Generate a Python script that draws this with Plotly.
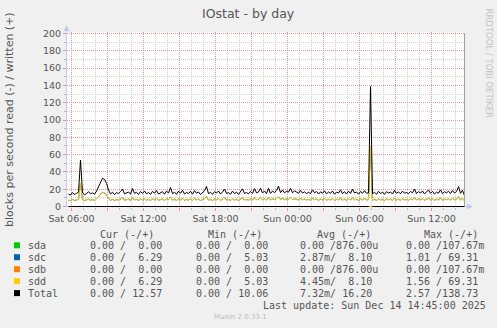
import plotly.graph_objects as go
import pandas as pd

# ---------------- data ----------------
N = 199
times = pd.date_range("2025-12-13 05:45", periods=N, freq="10min")

# written blocks/s for sdd
sdd_written = [
    7.2, 6.6, 8.1, 7.0, 7.6, 8.3, 26.8, 7.9, 6.8, 7.4,
    8.6, 7.3, 7.9, 7.1, 8.9, 11.2, 14.4, 16.3, 15.7, 13.4,
    9.6, 7.2, 8.3, 6.9, 8.0, 7.5, 8.6, 10.1, 7.3, 7.8,
    8.4, 7.1, 10.4, 7.6, 8.2, 6.9, 8.7, 7.5, 9.0, 7.3,
    8.1, 7.0, 8.8, 7.6, 9.3, 7.2, 8.0, 8.6, 7.1, 8.9,
    7.8, 11.0, 7.4, 8.3, 7.0, 8.9, 7.6, 9.4, 7.2, 8.1,
    7.5, 8.8, 7.1, 9.2, 7.7, 8.4, 6.9, 8.0, 9.1, 11.6,
    7.4, 8.2, 7.0, 8.6, 7.8, 9.0, 7.2, 8.4, 10.1, 7.6,
    8.0, 7.1, 8.9, 7.4, 8.3, 7.0, 8.6, 10.2, 7.5, 8.1,
    7.3, 8.7, 7.6, 10.3, 7.9, 8.4, 10.5, 7.8, 9.0, 7.4,
    10.4, 7.6, 8.9, 8.1, 9.2, 11.8, 8.0, 9.5, 7.9, 8.8,
    8.3, 10.5, 7.9, 9.0, 8.4, 7.6, 9.3, 7.8, 8.5, 7.5,
    8.2, 7.4, 9.6, 7.9, 8.7, 7.2, 8.5, 7.7, 9.1, 7.3,
    8.4, 7.6, 9.0, 7.1, 8.3, 7.8, 9.6, 7.4, 8.6, 7.2,
    8.9, 7.5, 10.0, 7.8, 8.4, 7.1, 8.7, 7.6, 9.2, 7.7, 7.9,
    69.3,
    7.4, 8.2, 7.1, 8.8, 7.5, 8.3, 7.0, 8.6,
    7.8, 8.4, 7.2, 9.3, 7.6, 8.5, 7.3, 8.9, 7.7, 8.1,
    7.4, 8.7, 7.9, 10.1, 7.5, 8.6, 7.8, 9.0, 7.3, 8.4,
    9.5, 7.6, 8.8, 7.2, 8.3, 7.7, 9.6, 7.4, 8.5, 7.9,
    8.8, 7.5, 9.3, 7.8, 8.6, 11.5, 7.6, 9.4, 6.3,
]
# sdc shows exactly the same written values as sdd (identical legend stats)
sdc_written = list(sdd_written)
# sda / sdb written: zero except tiny blips (max 107.67m)
sda_written = [0.0] * N
sda_written[151] = 0.108
sdb_written = [0.0] * N
sdb_written[151] = 0.108
# reads (drawn downwards): zero except one blip at the Sunday spike
sda_read = [0.0] * N
sdb_read = [0.0] * N
sdc_read = [0.0] * N
sdc_read[151] = 1.01
sdd_read = [0.0] * N
sdd_read[151] = 1.56

total_written = [a + b + c + d for a, b, c, d in zip(sda_written, sdc_written, sdb_written, sdd_written)]
total_read = [a + b + c + d for a, b, c, d in zip(sda_read, sdc_read, sdb_read, sdd_read)]

series_names = ["sda", "sdc", "sdb", "sdd", "Total"]
series_colors = ["#00CC00", "#0066B3", "#FF8000", "#FFCC00", "#000000"]
written = [sda_written, sdc_written, sdb_written, sdd_written, total_written]
read = [sda_read, sdc_read, sdb_read, sdd_read, total_read]

cur_col = ["0.00 /  0.00", "0.00 /  6.29", "0.00 /  0.00", "0.00 /  6.29", "0.00 / 12.57"]
min_col = ["0.00 /  0.00", "0.00 /  5.03", "0.00 /  0.00", "0.00 /  5.03", "0.00 / 10.06"]
avg_col = ["0.00 /876.00u", "2.87m/  8.10", "0.00 /876.00u", "4.45m/  8.10", "7.32m/ 16.20"]
max_col = ["0.00 /107.67m", "1.01 / 69.31", "0.00 /107.67m", "1.56 / 69.31", "2.57 /138.73"]
col_headers = ["Cur (-/+)", "Min (-/+)", "Avg (-/+)", "Max (-/+)"]

x_tickvals = ["2025-12-13 06:00", "2025-12-13 09:00", "2025-12-13 12:00", "2025-12-13 15:00",
              "2025-12-13 18:00", "2025-12-13 21:00", "2025-12-14 00:00", "2025-12-14 03:00",
              "2025-12-14 06:00", "2025-12-14 09:00", "2025-12-14 12:00"]
x_ticktext = ["Sat 06:00", "", "Sat 12:00", "", "Sat 18:00", "", "Sun 00:00", "",
              "Sun 06:00", "", "Sun 12:00"]
y_tickvals = [0, 20, 40, 60, 80, 100, 120, 140, 160, 180, 200]

# minor (hourly / every 10) grid positions that are not on a major line
hours = pd.date_range("2025-12-13 06:00", "2025-12-14 14:00", freq="1h")
x_minorvals = [h.strftime("%Y-%m-%d %H:%M") for h in hours if h.hour % 3 != 0]
y_minorvals = [10, 30, 50, 70, 90, 110, 130, 150, 170, 190]

# ---------------- layout geometry (pixels) ----------------
W, H = 497, 328
L, T, PW, PH = 67, 32, 398, 175
R = W - L - PW
B = H - T - PH


def fx(x):
    return (x - L) / PW


def fy(y):
    return (T + PH - y) / PH


TXT = "#555555"
MAJ = "#E89494"
MIN = "#CFCFCF"
AX = "#C4C8F0"
DOT = "1px,1px"

fig = go.Figure()
for name, col, w, r in zip(series_names, series_colors, written, read):
    fig.add_trace(go.Scatter(x=times, y=[-v for v in r], mode="lines",
                             line=dict(color=col, width=1), showlegend=False, hoverinfo="skip"))
    fig.add_trace(go.Scatter(x=times, y=w, mode="lines", name=name,
                             line=dict(color=col, width=1), showlegend=False))

fig.update_layout(
    width=W, height=H,
    margin=dict(l=L, r=R, t=T, b=B, pad=0),
    paper_bgcolor="#F0F0F0", plot_bgcolor="#FFFFFF",
    showlegend=False,
    font=dict(family="DejaVu Sans", color=TXT, size=9.5),
    xaxis=dict(
        type="date", range=["2025-12-13 05:37:30", "2025-12-14 14:47:30"],
        tickmode="array", tickvals=x_tickvals, ticktext=x_ticktext,
        showgrid=True, gridcolor=MAJ, griddash=DOT, gridwidth=1,
        ticks="outside", ticklen=3, tickcolor=MAJ,
        tickfont=dict(family="DejaVu Sans", size=9.5, color=TXT),
        minor=dict(tickmode="array", tickvals=x_minorvals,
                   showgrid=True, gridcolor=MIN, griddash=DOT, ticks="outside",
                   ticklen=2, tickcolor="#BBBBBB"),
        showline=False, zeroline=False, fixedrange=True,
    ),
    yaxis=dict(
        range=[-0.578, 201.73],
        tickmode="array", tickvals=y_tickvals,
        showgrid=True, gridcolor=MAJ, griddash=DOT, gridwidth=1,
        ticks="outside", ticklen=3, tickcolor=MAJ,
        tickfont=dict(family="DejaVu Sans", size=9.5, color=TXT),
        minor=dict(tickmode="array", tickvals=y_minorvals,
                   showgrid=True, gridcolor=MIN, griddash=DOT, ticks="outside",
                   ticklen=2, tickcolor="#BBBBBB"),
        showline=False, zeroline=False, fixedrange=True,
    ),
)

shapes = []
# y axis line + arrow
shapes.append(dict(type="line", xref="paper", yref="paper", x0=fx(66.5), x1=fx(66.5),
                   y0=fy(207), y1=fy(29), line=dict(color=AX, width=1), layer="below"))
shapes.append(dict(type="path", xref="paper", yref="paper",
                   path=f"M {fx(63.5)} {fy(31)} L {fx(69.5)} {fy(31)} L {fx(66.5)} {fy(25)} Z",
                   fillcolor=AX, line=dict(width=0)))
# x axis line + arrow
shapes.append(dict(type="line", xref="paper", yref="paper", x0=fx(66.5), x1=fx(469),
                   y0=fy(206.5), y1=fy(206.5), line=dict(color=AX, width=1), layer="below"))
shapes.append(dict(type="path", xref="paper", yref="paper",
                   path=f"M {fx(467)} {fy(203.5)} L {fx(467)} {fy(209.5)} L {fx(473)} {fy(206.5)} Z",
                   fillcolor=AX, line=dict(width=0)))
# right border line
shapes.append(dict(type="line", xref="paper", yref="paper", x0=fx(464.5), x1=fx(464.5),
                   y0=fy(206.5), y1=fy(33), line=dict(color="#A0A0A0", width=1)))

annotations = []
# title
annotations.append(dict(text="IOstat - by day", x=fx(248.3), y=fy(13.5), xref="paper", yref="paper",
                        showarrow=False, xanchor="center", yanchor="middle",
                        font=dict(family="DejaVu Sans", size=12.5, color=TXT)))
# y axis title
annotations.append(dict(text="blocks per second read (-) / written (+)", x=fx(9), y=fy(120),
                        xref="paper", yref="paper", showarrow=False, textangle=-90,
                        xanchor="center", yanchor="middle",
                        font=dict(family="DejaVu Sans", size=11, color=TXT)))
# watermark
annotations.append(dict(text="RRDTOOL / TOBI OETIKER", x=fx(488.5), y=fy(63), xref="paper", yref="paper",
                        showarrow=False, textangle=90, xanchor="center", yanchor="middle",
                        font=dict(family="DejaVu Sans", size=8.5, color="#C4C4C4")))

MONO = dict(family="DejaVu Sans Mono", size=10, color=TXT)


def nb(s):
    return s.replace(" ", "\u00a0")


header_x = [98.7, 207.3, 315.7, 423.3]
for hx, ht in zip(header_x, col_headers):
    annotations.append(dict(text=nb(ht), x=fx(hx), y=fy(234), xref="paper", yref="paper",
                            showarrow=False, xanchor="left", yanchor="middle", borderpad=0, font=MONO))

row_y = [245.3, 257.2, 269.2, 281.2, 293.1]
col_x = [89.3, 195, 299.3, 405]
for i, (name, col) in enumerate(zip(series_names, series_colors)):
    yy = row_y[i]
    shapes.append(dict(type="rect", xref="paper", yref="paper", x0=fx(14), x1=fx(20),
                       y0=fy(yy - 3), y1=fy(yy + 3), fillcolor=col, line=dict(width=0)))
    annotations.append(dict(text=name, x=fx(26.5), y=fy(yy), xref="paper", yref="paper",
                            showarrow=False, xanchor="left", yanchor="middle", borderpad=0, font=MONO))
    for cx, colvals in zip(col_x, [cur_col, min_col, avg_col, max_col]):
        annotations.append(dict(text=nb(colvals[i]), x=fx(cx), y=fy(yy), xref="paper", yref="paper",
                                showarrow=False, xanchor="left", yanchor="middle", borderpad=0, font=MONO))

annotations.append(dict(text=nb("Last update: Sun Dec 14 14:45:00 2025"), x=fx(261.7), y=fy(305.8),
                        xref="paper", yref="paper", showarrow=False, xanchor="left", yanchor="middle",
                        borderpad=0, font=MONO))
annotations.append(dict(text="Munin 2.0.33-1", x=fx(240.5), y=fy(317.3), xref="paper", yref="paper",
                        showarrow=False, xanchor="center", yanchor="middle",
                        font=dict(family="DejaVu Sans", size=7, color="#BBBBBB")))

fig.update_layout(shapes=shapes, annotations=annotations)
fig.write_html("out.html")
